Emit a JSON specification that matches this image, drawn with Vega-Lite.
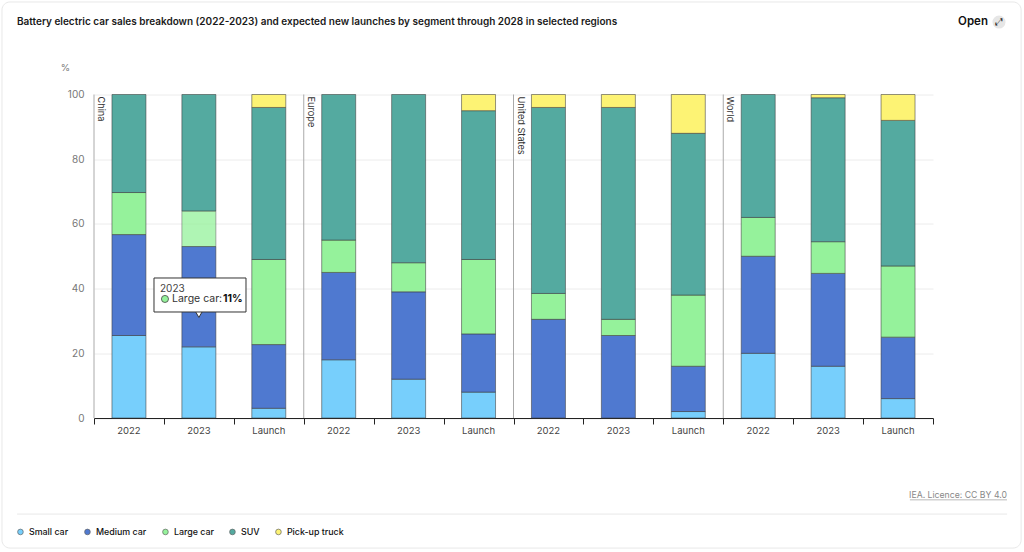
{
  "$schema": "https://vega.github.io/schema/vega-lite/v6.json",
  "width": 839,
  "height": 323.5,
  "autosize": "none",
  "padding": {"left": 94, "top": 94.5, "right": 91, "bottom": 134},
  "background": "white",
  "title": {"text": "Battery electric car sales breakdown (2022-2023) and expected new launches by segment through 2028 in selected regions", "anchor": "start", "frame": "group", "dx": -77, "dy": 26, "offset": 0, "fontSize": 10, "fontWeight": 600, "color": "#1a1a1a"},
  "config": {"font": "Inter", "view": {"stroke": null}},
  "resolve": {"scale": {"x": "independent"}, "axis": {"x": "independent"}},
  "layer": [
    {
      "data": {"values": [
        {"bar": "China|2022", "segment": "Small car", "rank": 1, "share": 25.5},
        {"bar": "China|2022", "segment": "Medium car", "rank": 2, "share": 31.2},
        {"bar": "China|2022", "segment": "Large car", "rank": 3, "share": 13},
        {"bar": "China|2022", "segment": "SUV", "rank": 4, "share": 30.3},
        {"bar": "China|2023", "segment": "Small car", "rank": 1, "share": 22},
        {"bar": "China|2023", "segment": "Medium car", "rank": 2, "share": 31},
        {"bar": "China|2023", "segment": "Large car", "rank": 3, "share": 11},
        {"bar": "China|2023", "segment": "SUV", "rank": 4, "share": 36},
        {"bar": "China|Launch", "segment": "Small car", "rank": 1, "share": 3},
        {"bar": "China|Launch", "segment": "Medium car", "rank": 2, "share": 19.7},
        {"bar": "China|Launch", "segment": "Large car", "rank": 3, "share": 26.3},
        {"bar": "China|Launch", "segment": "SUV", "rank": 4, "share": 47},
        {"bar": "China|Launch", "segment": "Pick-up truck", "rank": 5, "share": 4},
        {"bar": "Europe|2022", "segment": "Small car", "rank": 1, "share": 18},
        {"bar": "Europe|2022", "segment": "Medium car", "rank": 2, "share": 27},
        {"bar": "Europe|2022", "segment": "Large car", "rank": 3, "share": 10},
        {"bar": "Europe|2022", "segment": "SUV", "rank": 4, "share": 45},
        {"bar": "Europe|2023", "segment": "Small car", "rank": 1, "share": 12},
        {"bar": "Europe|2023", "segment": "Medium car", "rank": 2, "share": 27},
        {"bar": "Europe|2023", "segment": "Large car", "rank": 3, "share": 9},
        {"bar": "Europe|2023", "segment": "SUV", "rank": 4, "share": 52},
        {"bar": "Europe|Launch", "segment": "Small car", "rank": 1, "share": 8},
        {"bar": "Europe|Launch", "segment": "Medium car", "rank": 2, "share": 18},
        {"bar": "Europe|Launch", "segment": "Large car", "rank": 3, "share": 23},
        {"bar": "Europe|Launch", "segment": "SUV", "rank": 4, "share": 46},
        {"bar": "Europe|Launch", "segment": "Pick-up truck", "rank": 5, "share": 5},
        {"bar": "United States|2022", "segment": "Medium car", "rank": 2, "share": 30.5},
        {"bar": "United States|2022", "segment": "Large car", "rank": 3, "share": 8},
        {"bar": "United States|2022", "segment": "SUV", "rank": 4, "share": 57.5},
        {"bar": "United States|2022", "segment": "Pick-up truck", "rank": 5, "share": 4},
        {"bar": "United States|2023", "segment": "Medium car", "rank": 2, "share": 25.5},
        {"bar": "United States|2023", "segment": "Large car", "rank": 3, "share": 5},
        {"bar": "United States|2023", "segment": "SUV", "rank": 4, "share": 65.5},
        {"bar": "United States|2023", "segment": "Pick-up truck", "rank": 5, "share": 4},
        {"bar": "United States|Launch", "segment": "Small car", "rank": 1, "share": 2},
        {"bar": "United States|Launch", "segment": "Medium car", "rank": 2, "share": 14},
        {"bar": "United States|Launch", "segment": "Large car", "rank": 3, "share": 22},
        {"bar": "United States|Launch", "segment": "SUV", "rank": 4, "share": 50},
        {"bar": "United States|Launch", "segment": "Pick-up truck", "rank": 5, "share": 12},
        {"bar": "World|2022", "segment": "Small car", "rank": 1, "share": 20},
        {"bar": "World|2022", "segment": "Medium car", "rank": 2, "share": 30},
        {"bar": "World|2022", "segment": "Large car", "rank": 3, "share": 12},
        {"bar": "World|2022", "segment": "SUV", "rank": 4, "share": 38},
        {"bar": "World|2023", "segment": "Small car", "rank": 1, "share": 16},
        {"bar": "World|2023", "segment": "Medium car", "rank": 2, "share": 28.7},
        {"bar": "World|2023", "segment": "Large car", "rank": 3, "share": 9.8},
        {"bar": "World|2023", "segment": "SUV", "rank": 4, "share": 44.5},
        {"bar": "World|2023", "segment": "Pick-up truck", "rank": 5, "share": 1},
        {"bar": "World|Launch", "segment": "Small car", "rank": 1, "share": 6},
        {"bar": "World|Launch", "segment": "Medium car", "rank": 2, "share": 19},
        {"bar": "World|Launch", "segment": "Large car", "rank": 3, "share": 22},
        {"bar": "World|Launch", "segment": "SUV", "rank": 4, "share": 45},
        {"bar": "World|Launch", "segment": "Pick-up truck", "rank": 5, "share": 8}
      ]},
      "mark": {"type": "bar", "stroke": "#3a3a3a", "strokeWidth": 1, "strokeOpacity": 0.55},
      "encoding": {
        "x": {
          "field": "bar",
          "type": "nominal",
          "sort": null,
          "scale": {"paddingInner": 0.514, "paddingOuter": 0.257},
          "axis": {"title": null, "labelExpr": "split(datum.value, '|')[1]", "labelAngle": 0, "labelFontSize": 9.5, "labelColor": "#444", "labelPadding": 7, "ticks": false, "domainColor": "#222", "domainWidth": 1}
        },
        "y": {
          "field": "share",
          "type": "quantitative",
          "stack": "zero",
          "scale": {"domain": [0, 100], "nice": false},
          "axis": {"title": "%", "titleAngle": 0, "titleX": -29, "titleY": -22, "titleFontSize": 9.5, "titleFontWeight": 400, "titleColor": "#777", "values": [0, 20, 40, 60, 80, 100], "domain": false, "ticks": false, "labelFontSize": 10, "labelColor": "#777", "labelPadding": 10, "gridColor": "#ececec"}
        },
        "order": {"field": "rank", "type": "quantitative"},
        "color": {
          "field": "segment",
          "type": "nominal",
          "scale": {
            "domain": ["Small car", "Medium car", "Large car", "SUV", "Pick-up truck"],
            "range": ["#77cffc", "#4f79d0", "#95f29b", "#54aaa0", "#fdf374"]
          },
          "legend": {"title": null, "orient": "none", "legendX": -78, "legendY": 433, "direction": "horizontal", "columns": 5, "gridAlign": "none", "columnPadding": 14, "symbolType": "circle", "symbolSize": 32, "symbolStrokeColor": "#666", "symbolStrokeWidth": 0.7, "symbolOpacity": 1, "labelFontSize": 8.9, "labelFontWeight": 500, "labelColor": "#111"}
        },
        "opacity": {"condition": {"test": "datum.bar == 'China|2023' && datum.segment == 'Large car'", "value": 0.75}, "value": 1}
      }
    },
    {
      "data": {"values": [
        {"region": "China", "start": 0},
        {"region": "Europe", "start": 3},
        {"region": "United States", "start": 6},
        {"region": "World", "start": 9}
      ]},
      "mark": {"type": "rule", "color": "#aaaaaa", "strokeWidth": 1},
      "encoding": {
        "x": {"field": "start", "type": "quantitative", "scale": {"domain": [0, 12], "nice": false, "zero": false}, "axis": {"orient": "bottom", "title": null, "values": [0, 1, 2, 3, 4, 5, 6, 7, 8, 9, 10, 11, 12], "labels": false, "grid": false, "domain": false, "tickColor": "#222", "tickSize": 6}},
        "y": {"datum": 0, "type": "quantitative"},
        "y2": {"datum": 100}
      }
    },
    {
      "data": {"values": [
        {"region": "China", "start": 0},
        {"region": "Europe", "start": 3},
        {"region": "United States", "start": 6},
        {"region": "World", "start": 9}
      ]},
      "mark": {"type": "text", "angle": 90, "align": "left", "baseline": "bottom", "dx": 2, "dy": -2, "fontSize": 9.2, "color": "#333"},
      "encoding": {
        "x": {"field": "start", "type": "quantitative", "scale": {"domain": [0, 12], "nice": false, "zero": false}, "axis": null},
        "y": {"datum": 100, "type": "quantitative"},
        "text": {"field": "region"}
      }
    },
    {
      "data": {"values": [{"note": "frame"}]},
      "layer": [
        {
          "mark": {"type": "rect", "fill": "transparent", "stroke": "#e8e8e8", "strokeWidth": 1, "cornerRadius": 8},
          "encoding": {
            "x": {"datum": -1.316, "type": "quantitative", "scale": {"domain": [0, 12], "nice": false, "zero": false}, "axis": null},
            "x2": {"datum": 13.26},
            "y": {"datum": 128.6, "type": "quantitative"},
            "y2": {"datum": -40.2}
          }
        },
        {
          "mark": {"type": "rule", "color": "#e8e8e8", "strokeWidth": 1},
          "encoding": {
            "x": {"datum": -1.1, "type": "quantitative", "scale": {"domain": [0, 12], "nice": false, "zero": false}, "axis": null},
            "x2": {"datum": 13.06},
            "y": {"datum": -29.7, "type": "quantitative"}
          }
        },
        {
          "mark": {"type": "rule", "color": "#999", "strokeWidth": 0.7},
          "encoding": {
            "x": {"datum": 11.67, "type": "quantitative", "scale": {"domain": [0, 12], "nice": false, "zero": false}, "axis": null},
            "x2": {"datum": 13.058},
            "y": {"datum": -25.3, "type": "quantitative"}
          }
        },
        {
          "mark": {"type": "text", "align": "right", "baseline": "middle", "fontSize": 8.7, "color": "#888"},
          "encoding": {
            "x": {"datum": 13.058, "type": "quantitative", "scale": {"domain": [0, 12], "nice": false, "zero": false}, "axis": null},
            "y": {"datum": -23.8, "type": "quantitative"},
            "text": {"value": "IEA. Licence: CC BY 4.0"}
          }
        },
        {
          "mark": {"type": "text", "align": "right", "baseline": "middle", "fontSize": 11.5, "fontWeight": 600, "color": "#111"},
          "encoding": {
            "x": {"datum": 12.786, "type": "quantitative", "scale": {"domain": [0, 12], "nice": false, "zero": false}, "axis": null},
            "y": {"datum": 122.4, "type": "quantitative"},
            "text": {"value": "Open"}
          }
        },
        {
          "mark": {"type": "point", "shape": "circle", "filled": true, "size": 170, "color": "#e6e6e6", "opacity": 1},
          "encoding": {
            "x": {"datum": 12.944, "type": "quantitative", "scale": {"domain": [0, 12], "nice": false, "zero": false}, "axis": null},
            "y": {"datum": 122.4, "type": "quantitative"}
          }
        },
        {
          "mark": {"type": "text", "align": "center", "baseline": "middle", "fontSize": 10, "font": "DejaVu Sans", "color": "#222"},
          "encoding": {
            "x": {"datum": 12.944, "type": "quantitative", "scale": {"domain": [0, 12], "nice": false, "zero": false}, "axis": null},
            "y": {"datum": 122.4, "type": "quantitative"},
            "text": {"value": "⤢"}
          }
        },
        {
          "mark": {"type": "point", "shape": "triangle-down", "filled": true, "size": 70, "fill": "white", "stroke": "#333", "strokeWidth": 1, "opacity": 1},
          "encoding": {
            "x": {"datum": 1.5, "type": "quantitative", "scale": {"domain": [0, 12], "nice": false, "zero": false}, "axis": null},
            "y": {"datum": 32.2, "type": "quantitative"}
          }
        },
        {
          "mark": {"type": "rect", "fill": "white", "stroke": "#333", "strokeWidth": 1},
          "encoding": {
            "x": {"datum": 0.858, "type": "quantitative", "scale": {"domain": [0, 12], "nice": false, "zero": false}, "axis": null},
            "x2": {"datum": 2.174},
            "y": {"datum": 32.77, "type": "quantitative"},
            "y2": {"datum": 43.28}
          }
        },
        {
          "mark": {"type": "text", "align": "left", "baseline": "middle", "fontSize": 10, "color": "#444"},
          "encoding": {
            "x": {"datum": 0.944, "type": "quantitative", "scale": {"domain": [0, 12], "nice": false, "zero": false}, "axis": null},
            "y": {"datum": 39.9, "type": "quantitative"},
            "text": {"value": "2023"}
          }
        },
        {
          "mark": {"type": "point", "shape": "circle", "filled": true, "size": 50, "fill": "#95f29b", "stroke": "#444", "strokeWidth": 0.8, "opacity": 1},
          "encoding": {
            "x": {"datum": 1.015, "type": "quantitative", "scale": {"domain": [0, 12], "nice": false, "zero": false}, "axis": null},
            "y": {"datum": 36.8, "type": "quantitative"}
          }
        },
        {
          "mark": {"type": "text", "align": "left", "baseline": "middle", "fontSize": 10.5, "color": "#333"},
          "encoding": {
            "x": {"datum": 1.116, "type": "quantitative", "scale": {"domain": [0, 12], "nice": false, "zero": false}, "axis": null},
            "y": {"datum": 36.8, "type": "quantitative"},
            "text": {"value": "Large car:"}
          }
        },
        {
          "mark": {"type": "text", "align": "left", "baseline": "middle", "fontSize": 10.5, "fontWeight": 700, "color": "#111"},
          "encoding": {
            "x": {"datum": 1.845, "type": "quantitative", "scale": {"domain": [0, 12], "nice": false, "zero": false}, "axis": null},
            "y": {"datum": 36.8, "type": "quantitative"},
            "text": {"value": "11%"}
          }
        }
      ]
    }
  ]
}
